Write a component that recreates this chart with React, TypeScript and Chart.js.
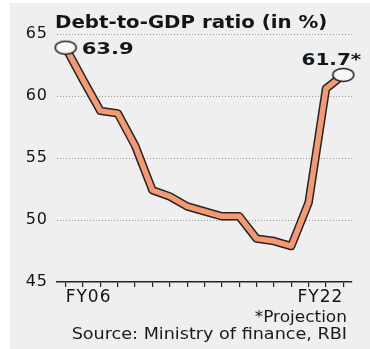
import React, { useEffect, useRef } from 'react';
import { Chart, registerables } from 'chart.js';

Chart.register(...registerables);

// ---- data ----
const categories = ['FY06', 'FY07', 'FY08', 'FY09', 'FY10', 'FY11', 'FY12', 'FY13', 'FY14', 'FY15', 'FY16', 'FY17', 'FY18', 'FY19', 'FY20', 'FY21', 'FY22'];
const debtToGdp = [63.9, 61.3, 58.8, 58.6, 56.0, 52.4, 51.9, 51.1, 50.7, 50.3, 50.3, 48.5, 48.3, 47.9, 51.4, 60.6, 61.7];
const yTickValues = [45, 50, 55, 60, 65];
const shownXLabels = ['FY06', 'FY22'];
const endLabels = ['63.9', '61.7*'];
const titleText = 'Debt-to-GDP ratio (in %)';
const footnotes = ['*Projection', 'Source: Ministry of finance, RBI'];

const FONT = 'DejaVu Sans';
const ORANGE = '#f49a72';
const OUTLINE = '#242424';

function makeEllipse(): HTMLCanvasElement {
  const c = document.createElement('canvas');
  c.width = 24;
  c.height = 16;
  const g = c.getContext('2d')!;
  g.beginPath();
  g.ellipse(12, 8, 10.5, 6.5, 0, 0, Math.PI * 2);
  g.fillStyle = '#f8f8f6';
  g.fill();
  g.lineWidth = 1.5;
  g.strokeStyle = '#222';
  g.stroke();
  return c;
}

function drawScaled(ctx: CanvasRenderingContext2D, text: string, x: number, y: number, sx: number, align: CanvasTextAlign) {
  ctx.save();
  ctx.translate(x, y);
  ctx.scale(sx, 1);
  ctx.textAlign = align;
  ctx.textBaseline = 'alphabetic';
  ctx.fillText(text, 0, 0);
  ctx.restore();
}

const backgroundPlugin = {
  id: 'bgPlugin',
  beforeDraw(chart: any) {
    const { ctx, width, height } = chart;
    ctx.save();
    ctx.fillStyle = '#efefef';
    ctx.fillRect(0, 0, width, height);
    ctx.restore();
    (ctx as any).letterSpacing = '1px';
  },
};

const textPlugin = {
  id: 'textPlugin',
  afterDraw(chart: any) {
    const { ctx, chartArea } = chart;
    ctx.save();
    (ctx as any).letterSpacing = '0px';
    // title
    ctx.fillStyle = '#141414';
    ctx.font = `bold 17.5px "${FONT}"`;
    drawScaled(ctx, titleText, chartArea.left - 2, 24.5, 1.13, 'left');
    // end labels
    const meta = chart.getDatasetMeta(0);
    const first = meta.data[0];
    const last = meta.data[meta.data.length - 1];
    ctx.fillStyle = '#101820';
    ctx.font = `bold 16px "${FONT}"`;
    drawScaled(ctx, endLabels[0], first.x + 16, first.y + 6, 1.32, 'left');
    drawScaled(ctx, endLabels[1], last.x + 18, last.y - 10, 1.25, 'right');
    // footnotes
    ctx.fillStyle = '#1a1a1a';
    ctx.font = `16px "${FONT}"`;
    drawScaled(ctx, footnotes[0], chartArea.right - 5, 319, 1.06, 'right');
    drawScaled(ctx, footnotes[1], chartArea.right - 5, 336, 1.1, 'right');
    ctx.restore();
  },
};

export default function App() {
  const ref = useRef<HTMLCanvasElement>(null);

  useEffect(() => {
    if (!ref.current) return;
    const ellipse = makeEllipse();
    const lastIdx = debtToGdp.length - 1;
    const chart = new Chart(ref.current, {
      type: 'line',
      data: {
        labels: categories,
        datasets: [
          {
            data: debtToGdp,
            borderColor: ORANGE,
            borderWidth: 5.5,
            tension: 0,
            borderJoinStyle: 'round',
            borderCapStyle: 'round',
            pointRadius: (c: any) => (c.dataIndex === 0 || c.dataIndex === lastIdx ? 8 : 0),
            pointStyle: ellipse as any,
            pointHoverRadius: 0,
          },
          {
            data: debtToGdp,
            borderColor: OUTLINE,
            borderWidth: 8.5,
            tension: 0,
            borderJoinStyle: 'round',
            borderCapStyle: 'round',
            pointRadius: 0,
            pointHoverRadius: 0,
          },
        ],
      },
      options: {
        animation: false,
        responsive: false,
        devicePixelRatio: 1,
        events: [],
        layout: { padding: { top: 31, right: 18, left: 0, bottom: 0 } },
        plugins: {
          legend: { display: false },
          tooltip: { enabled: false },
          title: { display: false },
        },
        scales: {
          x: {
            type: 'category',
            offset: true,
            afterFit: (s: any) => {
              s.height = 67;
            },
            grid: {
              display: true,
              offset: false,
              drawOnChartArea: false,
              drawTicks: true,
              tickLength: 5,
              color: '#222',
              lineWidth: 1.2,
            },
            border: { display: true, color: '#222', width: 1.5 },
            ticks: {
              autoSkip: false,
              maxRotation: 0,
              minRotation: 0,
              align: 'inner',
              padding: 0,
              color: '#141414',
              font: { family: FONT, size: 17 },
              callback: (_v: any, i: number) => (shownXLabels.includes(categories[i]) ? categories[i] : ''),
            },
          },
          y: {
            min: 45,
            max: 65,
            afterFit: (s: any) => {
              s.width = 47;
            },
            afterBuildTicks: (s: any) => {
              s.ticks = yTickValues.map((v) => ({ value: v }));
            },
            grid: {
              drawTicks: false,
              lineWidth: 1,
              color: (c: any) => (c.tick && c.tick.value === 45 ? 'rgba(0,0,0,0)' : '#9a9a9a'),
            },
            border: { display: false, dash: [1, 2] },
            ticks: {
              padding: 9,
              color: '#141414',
              font: { family: FONT, size: 16 },
            },
          },
        },
      },
      plugins: [backgroundPlugin, textPlugin],
    } as any);
    return () => chart.destroy();
  }, []);

  return (
    <div style={{ position: 'absolute', left: 10, top: 3, width: 360, height: 346 }}>
      <canvas ref={ref} width={360} height={346} style={{ display: 'block' }} />
    </div>
  );
}
